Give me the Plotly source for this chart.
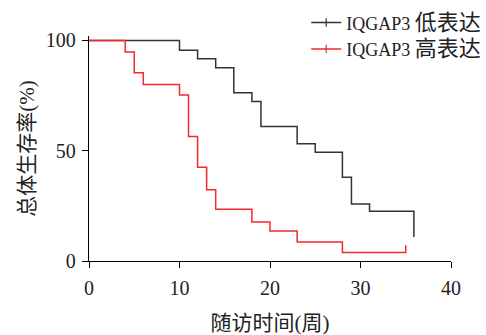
import plotly.graph_objects as go

# Kaplan-Meier step data
low_weeks = [0, 10, 12, 14, 16, 18, 19, 23, 25, 28, 29, 31, 35.9]
low_surv = [100, 95.5, 91.7, 87.6, 76.3, 72.3, 61.0, 53.2, 49.3, 38.0, 25.8, 22.6, 10.9]

high_weeks = [0, 4, 5, 6, 10, 11, 12, 13, 14, 18, 20, 23, 28, 35]
high_surv = [100, 94.8, 85.3, 80.0, 75.2, 56.4, 42.5, 32.3, 23.5, 17.7, 13.6, 8.6, 3.8, 7.1]

series_names = ["IQGAP3 <span style='font-size:22px'>低表达</span>",
                "IQGAP3 <span style='font-size:22px'>高表达</span>"]
series_colors = ["#333333", "#ee2a2f"]

x_ticks = [0, 10, 20, 30, 40]
y_ticks = [0, 50, 100]

FONT = "Liberation Serif, Noto Sans CJK SC, serif"

fig = go.Figure()
for i, (xs, ys, name, col) in enumerate([(low_weeks, low_surv, series_names[0], series_colors[0]),
                                         (high_weeks, high_surv, series_names[1], series_colors[1])]):
    fig.add_trace(go.Scatter(x=xs, y=ys, mode="lines", line=dict(color=col, width=1.5, shape="hv"),
                             showlegend=False, hoverinfo="skip"))
    fig.add_trace(go.Scatter(x=[None], y=[None], mode="lines+markers", name=name, legendgroup=f"g{i}",
                             line=dict(color=col, width=1.5),
                             marker=dict(symbol="line-ns-open", size=6, color=col, line=dict(color=col, width=1.2))))

axis_common = dict(showgrid=False, zeroline=False, showline=True, linecolor="black", linewidth=1.3,
                   ticks="outside", ticklen=6, tickwidth=1.3, tickcolor="black", automargin=False)

fig.update_xaxes(range=[0, 40], tickvals=x_ticks, ticklabelstandoff=3,
                 tickfont=dict(family=FONT, size=20, color="#222"),
                 title=dict(text="随访时间(周)", font=dict(family=FONT, size=21, color="#222"), standoff=22),
                 **axis_common)
fig.update_yaxes(range=[0, 102], tickvals=y_ticks, ticklabelstandoff=2,
                 tickfont=dict(family=FONT, size=20, color="#222"),
                 title=dict(text="总体生存率(%)", font=dict(family=FONT, size=21, color="#222"), standoff=5),
                 **axis_common)

fig.update_layout(
    width=486, height=335,
    margin=dict(l=89, r=35, t=36, b=74, autoexpand=False),
    plot_bgcolor="white", paper_bgcolor="white",
    legend=dict(x=0.6, y=1.141, xanchor="left", yanchor="top", itemwidth=30,
                font=dict(family=FONT, size=18, color="#222"), bgcolor="rgba(0,0,0,0)",
                tracegroupgap=0),
)

fig.write_html("out.html", config={"displayModeBar": False},
               post_script="document.body.style.margin='0';")
